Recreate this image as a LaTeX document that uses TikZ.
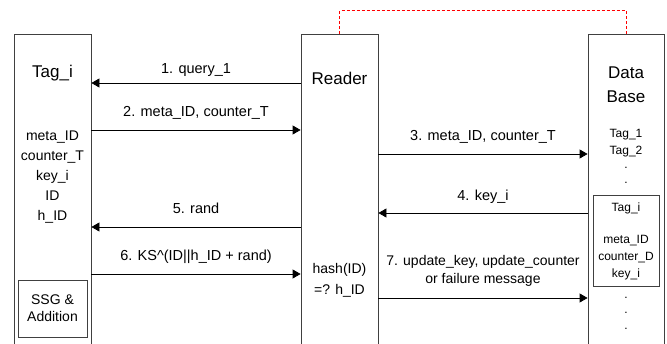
\documentclass[tikz,border=0pt]{standalone}
\usepackage{fontspec}
\setmainfont{Liberation Sans}
\usetikzlibrary{arrows.meta}
\begin{document}
\begin{tikzpicture}[x=1pt,y=-1pt,
  lane/.style={draw=black!75, line width=0.8pt, minimum height=340pt, anchor=north, inner sep=0pt},
  msg/.style={draw=black, line width=0.8pt, -{Triangle[length=8pt,width=9pt]}},
  lbl/.style={font=\fontsize{14.5}{17}\selectfont, inner sep=0pt, align=center},
  title/.style={font=\fontsize{17}{24}\selectfont, inner sep=0pt, align=center},
  body/.style={font=\fontsize{14}{20}\selectfont, inner sep=0pt, align=center},
  small/.style={font=\fontsize{12}{17}\selectfont, inner sep=0pt, align=center},
  sub/.style={draw=black!75, line width=0.8pt, inner sep=0pt},
  link/.style={color=red, line width=1pt, dash pattern=on 3pt off 2pt}
]
\useasboundingbox (0,0) rectangle (667,344);
% lanes
\node[lane, minimum width=77pt] (tag) at (52.5,34) {};
\node[lane, minimum width=77pt] (reader) at (339.5,34) {};
\node[lane, minimum width=76pt] (db) at (626,34) {};
% red dashed link
\draw[link] (reader.north) -- ++(0,-23) -| (db.north);
% Tag contents
\node[title] (tagt) at (52.5,73) {Tag\_i};
\node[body] (tagl) at (52.5,177) {meta\_ID\\counter\_T\\key\_i\\ID\\h\_ID};
\node[sub, minimum width=69pt, minimum height=57pt, body, font=\fontsize{14}{17}\selectfont] (ssg) at (52.5,308.5) {SSG \&\\Addition};
% Reader contents
\node[title] (readt) at (339.5,78) {Reader};
\node[body, font=\fontsize{14}{21}\selectfont] (hash) at (339.5,280.5) {hash(ID)\\=? h\_ID};
% DB contents
\node[title] (dbt) at (626,85) {Data\\Base};
\node[small] (dbl) at (626,143.5) {Tag\_1\\Tag\_2};
\node[small] (d1) at (626,168) {.};
\node[small] (d2) at (626,183) {.};
\node[sub, minimum width=66pt, minimum height=91pt] (inner) at (626,240.5) {};
\node[small] (it) at (626,208) {Tag\_i};
\node[small] (il) at (626,257.5) {meta\_ID\\counter\_D\\key\_i};
\node[small] (d3) at (626,298) {.};
\node[small] (d4) at (626,313) {.};
\node[small] (d5) at (626,329) {.};
% messages
\draw[msg] (reader.west |- 0,83) -- (tag.east |- 0,83);
\node[lbl] (l1) at (196,70) {1. query\_1};
\draw[msg] (tag.east |- 0,130) -- (reader.west |- 0,130);
\node[lbl] (l2) at (196,113) {2. meta\_ID, counter\_T};
\draw[msg] (reader.east |- 0,154) -- (db.west |- 0,154);
\node[lbl] (l3) at (483,137) {3. meta\_ID, counter\_T};
\draw[msg] (db.west |- 0,213) -- (reader.east |- 0,213);
\node[lbl] (l4) at (483,197) {4. key\_i};
\draw[msg] (reader.west |- 0,227) -- (tag.east |- 0,227);
\node[lbl] (l5) at (196,208) {5. rand};
\draw[msg] (tag.east |- 0,274) -- (reader.west |- 0,274);
\node[lbl] (l6) at (196,257) {6. KS\textasciicircum(ID||h\_ID + rand)};
\draw[msg] (reader.east |- 0,298) -- (db.west |- 0,298);
\node[lbl, font=\fontsize{14}{18}\selectfont] (l7) at (483,271) {7. update\_key, update\_counter\\or failure message};
\end{tikzpicture}
\end{document}
